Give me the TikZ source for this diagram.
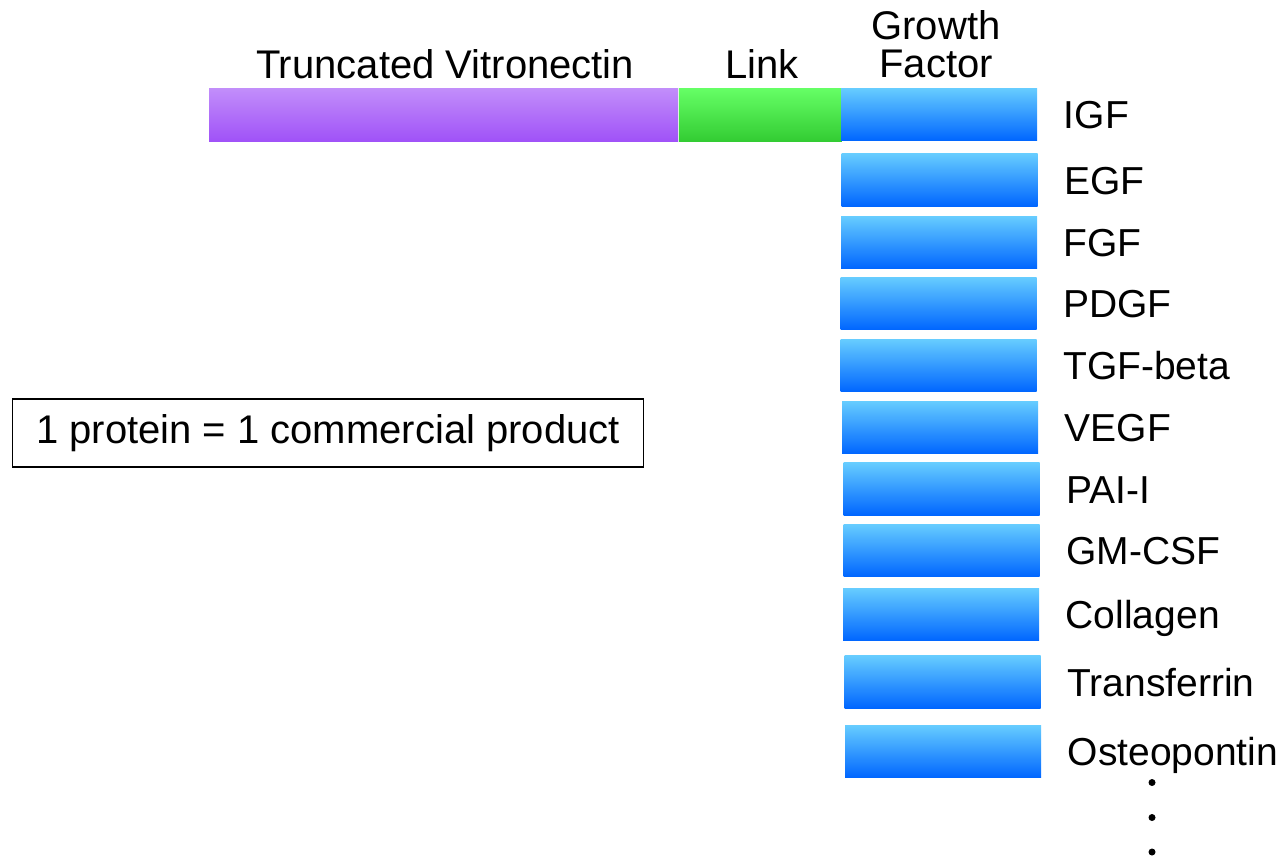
\documentclass[tikz,border=0pt]{standalone}
\usepackage{fontspec}
\setmainfont{Liberation Sans}
\usetikzlibrary{positioning}

\begin{document}
\begin{tikzpicture}[
  x=0.5pt, y=-0.5pt,
  node distance=13pt,
  vn/.style={rectangle, inner sep=0pt, minimum width=234.5pt, minimum height=26.5pt, top color=vntop, bottom color=vnbot},
  lnk/.style={rectangle, inner sep=0pt, minimum width=81.5pt, minimum height=26.5pt, top color=lnktop, bottom color=lnkbot},
  gf/.style={rectangle, inner sep=0pt, minimum width=98pt, minimum height=26.2pt, top color=gftop, bottom color=gfbot},
  gflabel/.style={inner sep=0pt, anchor=west, text height=14pt, text depth=0pt, font=\fontsize{19.5}{22}\selectfont},
  head/.style={inner sep=0pt, anchor=base, font=\fontsize{20}{22}\selectfont},
  dot/.style={circle, fill=black, inner sep=0pt, minimum size=3.5pt}
]
\definecolor{vntop}{HTML}{C28EFA}
\definecolor{vnbot}{HTML}{A052F8}
\definecolor{lnktop}{HTML}{66FF66}
\definecolor{lnkbot}{HTML}{33CC33}
\definecolor{gftop}{HTML}{66CCFF}
\definecolor{gfbot}{HTML}{0066FF}
\useasboundingbox (0,0) rectangle (1288,857);

% Fusion protein: vitronectin + link + growth factor
\node[vn] (vitro) at (443.5,114.5) {};
\node[lnk, right=0pt of vitro] (link) {};
\node[gf] (igf) at (939,114.5) {};

% Headers
\node[head] (hvitro) at (445,78) {Truncated Vitronectin};
\node[head] (hlink)  at (762,78) {Link};
\node[head, anchor=south, align=center, font=\fontsize{20}{19}\selectfont] (hgf) at (936,78) {Growth\\Factor};

% Growth factor bars
\node[gf] (egf)   at (939.5,180) {};
\node[gf] (fgf)   at (939,242.5) {};
\node[gf] (pdgf)  at (938.5,303.5) {};
\node[gf] (tgf)   at (938.5,365.5) {};
\node[gf] (vegf)  at (940,427.5) {};
\node[gf] (pai)   at (941.5,489) {};
\node[gf] (gmcsf) at (941.5,550.5) {};
\node[gf] (coll)  at (941,614.5) {};
\node[gf] (trans) at (942.5,682) {};
\node[gf] (osteo) at (943,751.5) {};

% Labels
\node[gflabel, right=of igf]   (ligf)   {IGF};
\node[gflabel, right=of egf]   (legf)   {EGF};
\node[gflabel, right=of fgf]   (lfgf)   {FGF};
\node[gflabel, right=of pdgf]  (lpdgf)  {PDGF};
\node[gflabel, right=of tgf]   (ltgf)   {TGF-beta};
\node[gflabel, right=of vegf]  (lvegf)  {VEGF};
\node[gflabel, right=of pai]   (lpai)   {PAI-I};
\node[gflabel, right=of gmcsf] (lgmcsf) {GM-CSF};
\node[gflabel, right=of coll]  (lcoll)  {Collagen};
\node[gflabel, right=of trans] (ltrans) {Transferrin};
\node[gflabel, right=of osteo] (losteo) {Osteopontin};

% Continuation dots
\node[dot] (d1) at (1152,782.5) {};
\node[dot] (d2) at (1152,817.5) {};
\node[dot] (d3) at (1152,852) {};

% Note box
\node[draw, line width=0.8pt, inner sep=0pt, minimum width=315.5pt, minimum height=34pt, font=\fontsize{20}{22}\selectfont] (note) at (328,433) {1 protein = 1 commercial product};
\end{tikzpicture}
\end{document}
